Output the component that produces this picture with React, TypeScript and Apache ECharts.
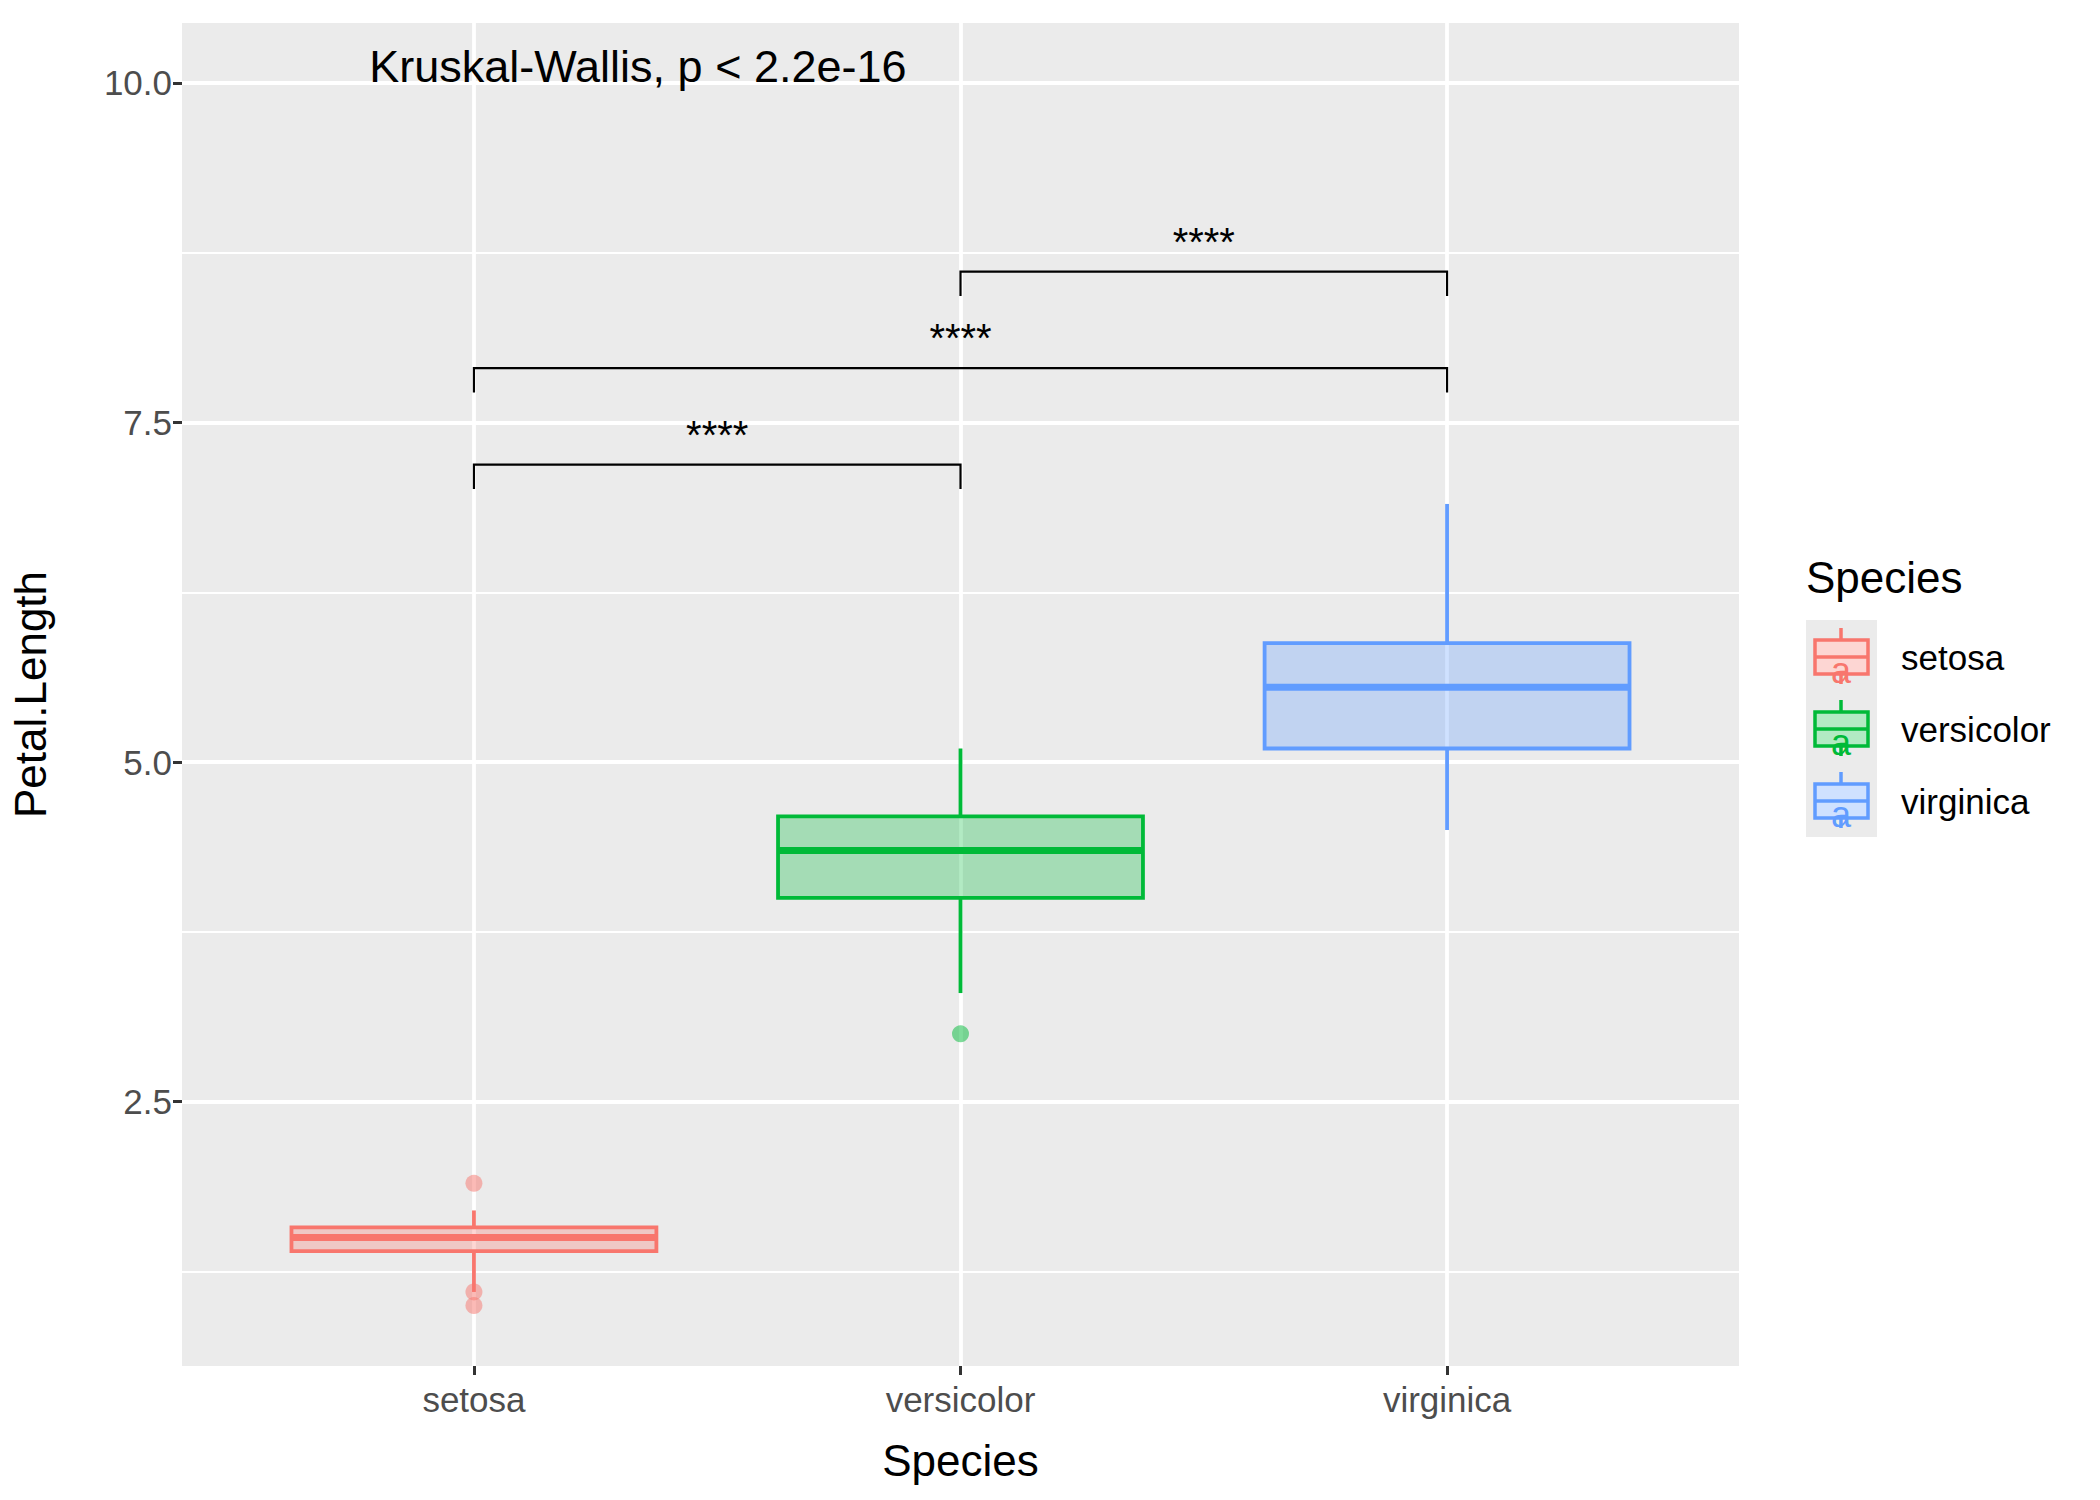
import React, { useEffect, useRef } from "react";
import * as echarts from "echarts";

const categories = ["setosa", "versicolor", "virginica"];
const colors = ["#F8766D", "#00BA38", "#619CFF"];
const fills = ["rgba(248,118,109,0.3)", "rgba(0,186,56,0.3)", "rgba(97,156,255,0.3)"];
// [x, lowWhisker, q1, median, q3, highWhisker]
const boxStats = [
  [1, 1.1, 1.4, 1.5, 1.575, 1.7],
  [2, 3.3, 4.0, 4.35, 4.6, 5.1],
  [3, 4.5, 5.1, 5.55, 5.875, 6.9],
];
const outliers = [
  [1, 1.9, 0],
  [1, 1.0, 0],
  [1, 1.1, 0],
  [2, 3.0, 1],
];
// [x1, x2, barY, tipY]
const brackets = [
  [1, 2, 7.19, 7.01],
  [1, 3, 7.9, 7.72],
  [2, 3, 8.61, 8.43],
];
const bracketLabel = "****";
const yTicks = [2.5, 5, 7.5, 10];
const yMinor = [1.25, 3.75, 6.25, 8.75];
const testText = "Kruskal-Wallis, p < 2.2e-16";

export default function App() {
  const ref = useRef<HTMLDivElement>(null);
  useEffect(() => {
    document.body.style.margin = "0";
    const chart = echarts.init(ref.current!, null, { renderer: "svg" });
    const font = "Liberation Sans, Arial, sans-serif";
    const LX = 1806;
    const LT = 620;
    const legendChildren: any[] = [
      { type: "text", x: LX, y: 577, style: { text: "Species", font: `44px ${font}`, fill: "#000", verticalAlign: "middle" } },
      { type: "rect", shape: { x: LX, y: LT, width: 71, height: 217 }, style: { fill: "#EBEBEB" } },
    ];
    categories.forEach((c, i) => {
      const t = LT + 72 * i;
      legendChildren.push(
        { type: "line", shape: { x1: LX + 35, y1: t + 8, x2: LX + 35, y2: t + 64 }, style: { stroke: colors[i], lineWidth: 3.5 } },
        { type: "rect", shape: { x: LX + 9, y: t + 20, width: 53, height: 34 }, style: { fill: "#fff", stroke: colors[i], lineWidth: 3.5 } },
        { type: "rect", shape: { x: LX + 9, y: t + 20, width: 53, height: 34 }, style: { fill: fills[i] } },
        { type: "line", shape: { x1: LX + 9, y1: t + 37, x2: LX + 62, y2: t + 37 }, style: { stroke: colors[i], lineWidth: 3.5 } },
        { type: "text", x: LX + 35, y: t + 50, style: { text: "a", font: `36px ${font}`, fill: colors[i], align: "center", verticalAlign: "middle" } },
        { type: "text", x: LX + 95, y: t + 37, style: { text: c, font: `35px ${font}`, fill: "#000", verticalAlign: "middle" } }
      );
    });
    chart.setOption({
      animation: false,
      grid: { left: 172, right: 361, top: 23, bottom: 134, show: true, backgroundColor: "#EBEBEB", borderWidth: 0 },
      xAxis: {
        type: "value", min: 0.4, max: 3.6,
        name: "Species", nameLocation: "middle", nameGap: 72,
        nameTextStyle: { fontSize: 44, color: "#000", fontFamily: font },
        axisLine: { show: false }, splitLine: { show: false },
        axisTick: { show: true, customValues: [1, 2, 3], length: 9, lineStyle: { color: "#333", width: 3 } },
        axisLabel: { customValues: [1, 2, 3], formatter: (v: number) => categories[Math.round(v) - 1] ?? "", fontSize: 35, color: "#4D4D4D", fontFamily: font, margin: 16 },
      },
      yAxis: {
        type: "value", min: 0.555, max: 10.44,
        name: "Petal.Length", nameLocation: "middle", nameGap: 130, nameRotate: 90,
        nameTextStyle: { fontSize: 44, color: "#000", fontFamily: font },
        axisLine: { show: false }, splitLine: { show: false },
        axisTick: { show: true, customValues: yTicks, length: 9, lineStyle: { color: "#333", width: 3 } },
        axisLabel: { customValues: yTicks, formatter: (v: number) => v.toFixed(1), fontSize: 35, color: "#4D4D4D", fontFamily: font, margin: 10 },
      },
      graphic: [{ type: "group", children: legendChildren }],
      series: [
        {
          type: "line", data: [], silent: true, z: 0,
          markLine: {
            silent: true, symbol: "none", label: { show: false }, animation: false, z: 0,
            data: [
              ...yMinor.map((v) => ({ yAxis: v, lineStyle: { color: "#fff", width: 2, type: "solid" } })),
              ...yTicks.map((v) => ({ yAxis: v, lineStyle: { color: "#fff", width: 3.8, type: "solid" } })),
              ...[1, 2, 3].map((v) => ({ xAxis: v, lineStyle: { color: "#fff", width: 3.8, type: "solid" } })),
            ],
          },
        },
        {
          type: "custom", data: boxStats, z: 10,
          renderItem: (params: any, api: any) => {
            const i = params.dataIndex;
            const x = api.value(0);
            const hw = api.size([0.75, 0])[0] / 2;
            const p = (y: number) => api.coord([x, y]);
            const [cx, ylo] = p(api.value(1));
            const yq1 = p(api.value(2))[1];
            const ymed = p(api.value(3))[1];
            const yq3 = p(api.value(4))[1];
            const yhi = p(api.value(5))[1];
            const st = { stroke: colors[i], lineWidth: 3.8 };
            return {
              type: "group",
              children: [
                { type: "line", shape: { x1: cx, y1: yq1, x2: cx, y2: ylo }, style: st },
                { type: "line", shape: { x1: cx, y1: yq3, x2: cx, y2: yhi }, style: st },
                { type: "rect", shape: { x: cx - hw, y: yq3, width: 2 * hw, height: yq1 - yq3 }, style: { fill: fills[i], stroke: colors[i], lineWidth: 3.8 } },
                { type: "line", shape: { x1: cx - hw, y1: ymed, x2: cx + hw, y2: ymed }, style: { stroke: colors[i], lineWidth: 7 } },
              ],
            };
          },
        },
        {
          type: "scatter", z: 11, symbolSize: 17,
          data: outliers.map((o) => ({ value: [o[0], o[1]], itemStyle: { color: colors[o[2]], opacity: 0.5 } })),
        },
        {
          type: "custom", data: brackets, z: 12,
          renderItem: (params: any, api: any) => {
            const a = api.coord([api.value(0), api.value(3)]);
            const b = api.coord([api.value(0), api.value(2)]);
            const c = api.coord([api.value(1), api.value(2)]);
            const d = api.coord([api.value(1), api.value(3)]);
            const m = api.coord([(api.value(0) + api.value(1)) / 2, api.value(2)]);
            return {
              type: "group",
              children: [
                { type: "polyline", shape: { points: [a, b, c, d] }, style: { stroke: "#000", lineWidth: 2.2, fill: "none" } },
                { type: "text", x: m[0], y: m[1] - 30, style: { text: bracketLabel, font: `40px ${font}`, fill: "#000", align: "center", verticalAlign: "middle" } },
              ],
            };
          },
        },
        {
          type: "custom", data: [[1.337, 10.12]], z: 12,
          renderItem: (params: any, api: any) => {
            const p = api.coord([api.value(0), api.value(1)]);
            return { type: "text", x: p[0], y: p[1], style: { text: testText, font: `45px ${font}`, fill: "#000", align: "center", verticalAlign: "middle" } };
          },
        },
      ],
    });
    return () => chart.dispose();
  }, []);
  return <div ref={ref} style={{ width: 2100, height: 1500 }} />;
}
